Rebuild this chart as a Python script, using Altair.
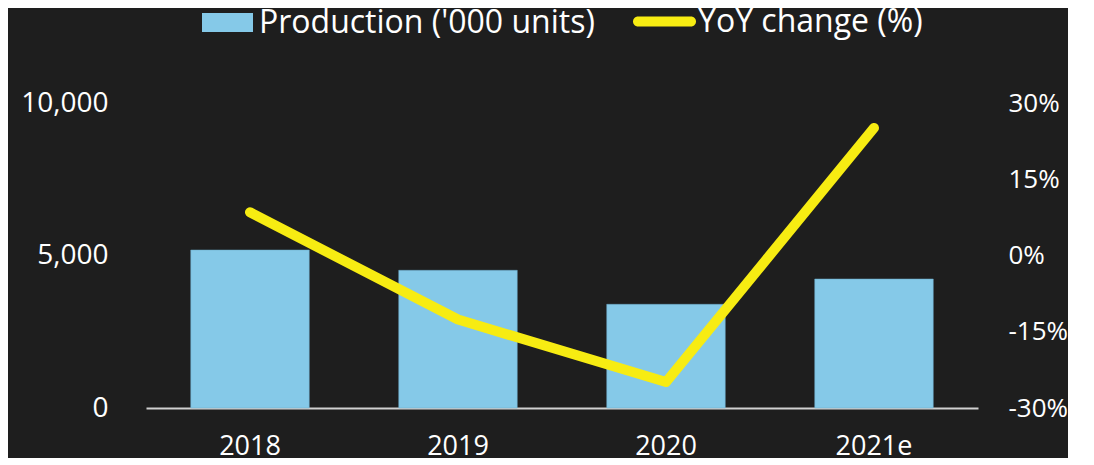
import altair as alt
import pandas as pd

years = ["2018", "2019", "2020", "2021e"]
production = [5180, 4515, 3400, 4230]
yoy = [0.085, -0.126, -0.249, 0.251]

df = pd.DataFrame({
    "year": years,
    "production": production,
    "yoy": yoy,
    "s1": ["Production ('000 units)"] * 4,
    "s2": ["YoY change (%)"] * 4,
})

FONT = "Open Sans"
LFS = 32

x = alt.X("year:N", sort=years, title=None,
          scale=alt.Scale(paddingInner=0.43, paddingOuter=0.215),
          axis=alt.Axis(labelAngle=0, ticks=False, domainColor="#d0d0d0", domainWidth=2,
                        labelColor="white", labelFontSize=27, labelFont=FONT, labelPadding=25,
                        grid=False))

bars = alt.Chart(df).mark_bar(stroke="#6aa9c6", strokeWidth=0.5).encode(
    x=x,
    y=alt.Y("production:Q", title=None,
            scale=alt.Scale(domain=[0, 10000]),
            axis=alt.Axis(values=[0, 5000, 10000], format=",.0f", domain=False, ticks=False, grid=False,
                          labelColor="white", labelFontSize=28, labelFont=FONT, labelPadding=38)),
    fill=alt.Fill("s1:N", title=None,
                  scale=alt.Scale(range=["#85C9E8"]),
                  legend=alt.Legend(orient="none", legendX=56, legendY=-106,
                                    symbolType="M-1,-0.37H1V0.37H-1Z", symbolSize=2601,
                                    symbolStrokeWidth=0, labelOffset=6, labelLimit=0,
                                    labelColor="white", labelFontSize=LFS, labelFont=FONT,
                                    padding=0)),
)

line = alt.Chart(df).mark_line(strokeWidth=10, strokeCap="round", strokeJoin="round").encode(
    x=x,
    y=alt.Y("yoy:Q", title=None,
            scale=alt.Scale(domain=[-0.3, 0.3]),
            axis=alt.Axis(orient="right", values=[-0.3, -0.15, 0, 0.15, 0.3],
                          labelExpr="round(datum.value * 100) + '%'",
                          domain=False, ticks=False, grid=False,
                          labelColor="white", labelFontSize=26, labelFont=FONT, labelPadding=30)),
    stroke=alt.Stroke("s2:N", title=None,
                      scale=alt.Scale(range=["#F7EC12"]),
                      legend=alt.Legend(orient="none", legendX=487, legendY=-113,
                                        symbolType="M-0.841,-0.159H0.841A0.159,0.159 0 0 1 0.841,0.159H-0.841A0.159,0.159 0 0 1 -0.841,-0.159Z",
                                        symbolSize=3969, symbolFillColor="#F7EC12",
                                        symbolStrokeWidth=0, labelOffset=2, labelLimit=0,
                                        labelColor="white", labelFontSize=LFS, labelFont=FONT,
                                        padding=0)),
)

chart = alt.layer(bars, line).resolve_scale(y="independent").properties(
    width=832, height=305,
    autosize=alt.AutoSizeParams(type="none"),
    padding={"left": 138, "top": 95, "right": 90, "bottom": 50},
    background="#1e1e1e",
).configure_view(stroke=None)

chart.save("out.html", embed_options={"renderer": "svg", "actions": False})
